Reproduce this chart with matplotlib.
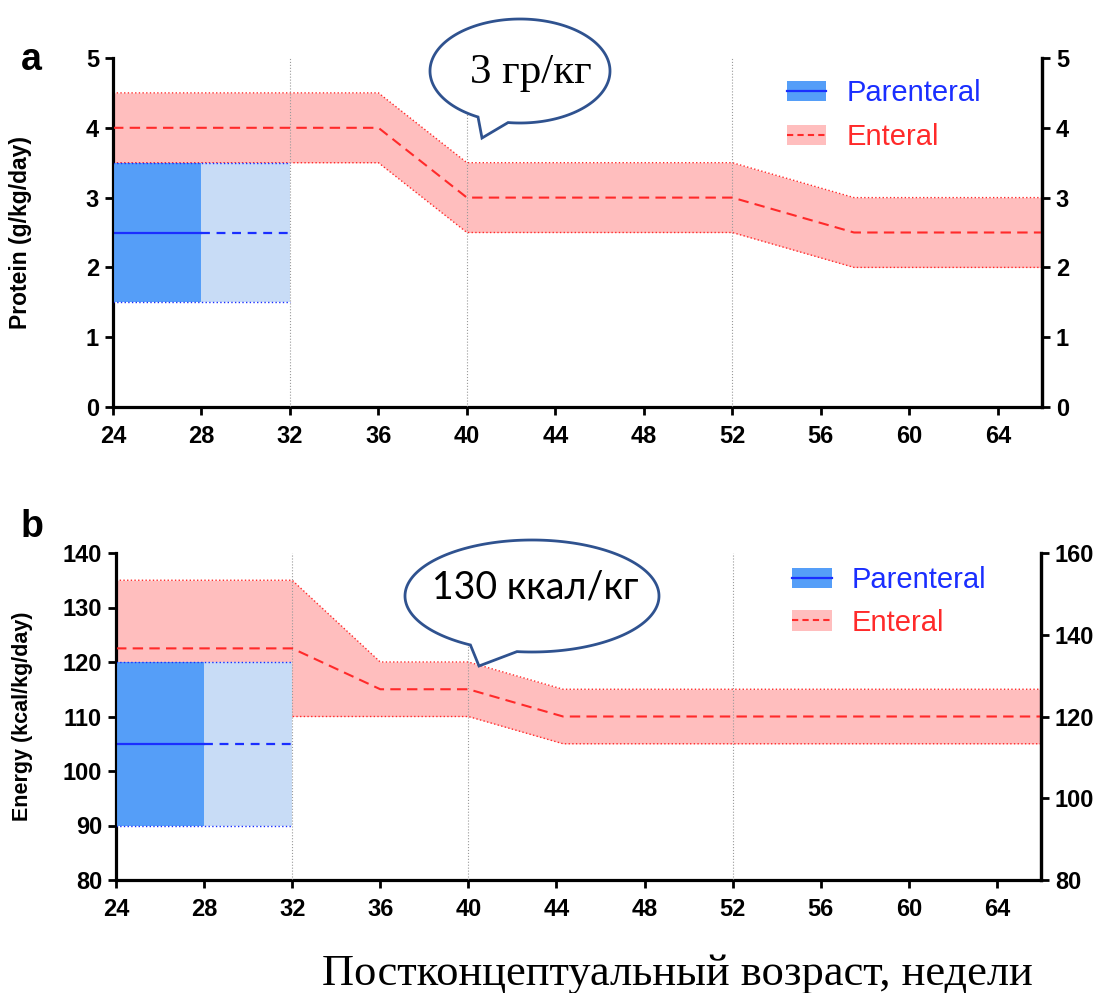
import numpy as np
import matplotlib
matplotlib.use('Agg')
import matplotlib.pyplot as plt
from matplotlib.patches import Patch, PathPatch
from matplotlib.lines import Line2D
from matplotlib.path import Path

plt.rcParams['font.family'] = ['Liberation Sans', 'DejaVu Sans']

# --- data -------------------------------------------------------------
weeks_ticks = [24, 28, 32, 36, 40, 44, 48, 52, 56, 60, 64]
grid_weeks = [32, 40, 52]

# panel a: protein (g/kg/day)
ent_x_a = [24, 36, 40, 52, 57.5, 66]
ent_mid_a = [4.0, 4.0, 3.0, 3.0, 2.5, 2.5]
ent_lo_a = [3.5, 3.5, 2.5, 2.5, 2.0, 2.0]
ent_hi_a = [4.5, 4.5, 3.5, 3.5, 3.0, 3.0]
par_x = [24, 28, 32]
par_lo_a, par_mid_a, par_hi_a = 1.5, 2.5, 3.5

# panel b: energy (kcal/kg/day)
ent_x_b = [24, 32, 36, 40, 44.3, 66]
ent_mid_b = [122.5, 122.5, 115, 115, 110, 110]
ent_lo_b = [110, 110, 110, 110, 105, 105]
ent_hi_b = [135, 135, 120, 120, 115, 115]
par_lo_b, par_mid_b, par_hi_b = 90, 105, 120

pink = '#FFBEBE'
red = '#FF2A2A'
blue_dark = '#559EF8'
blue_light = '#C8DCF6'
blue_line = '#1A2EFF'
bubble_edge = '#2F528F'

TICK_FS = 17

fig = plt.figure(figsize=(11.09, 9.93), dpi=100)
ax_a = fig.add_axes([113/1109, 1-407/993, 929/1109, 349/993])
ax_b = fig.add_axes([116/1109, 1-880/993, 925/1109, 327/993])


def style_right(ax2):
    ax2.spines['top'].set_visible(False)
    ax2.spines['right'].set_linewidth(2.3)
    ax2.tick_params(axis='y', direction='out', length=6, width=2,
                    labelsize=TICK_FS, pad=4)
    for lab in ax2.get_yticklabels():
        lab.set_fontweight('bold')


def draw_panel(ax, ent_x, lo, mid, hi, plo, pmid, phi):
    ax.fill_between(ent_x, lo, hi, color=pink, lw=0, zorder=1)
    ax.plot(ent_x, hi, ls=':', color=red, lw=1, zorder=2)
    ax.plot(ent_x, lo, ls=':', color=red, lw=1, zorder=2)
    ax.plot(ent_x, mid, ls='--', dashes=(5, 3), color=red, lw=1.5, zorder=6)
    ax.fill_between(par_x[:2], plo, phi, color=blue_dark, lw=0, zorder=3)
    ax.fill_between(par_x[1:], plo, phi, color=blue_light, lw=0, zorder=3)
    ax.plot([par_x[0], par_x[2]], [phi, phi], ls=':', color=blue_line, lw=1, zorder=4)
    ax.plot([par_x[0], par_x[2]], [plo, plo], ls=':', color=blue_line, lw=1, zorder=4)
    ax.plot(par_x[:2], [pmid, pmid], color=blue_line, lw=1.6, zorder=4)
    ax.plot(par_x[1:], [pmid, pmid], ls='--', dashes=(4, 3), color=blue_line, lw=1.6, zorder=4)
    for g in grid_weeks:
        ax.axvline(g, color='#9a9a9a', lw=0.8, ls=':', zorder=5)
    ax.set_xlim(24, 66)
    ax.set_xticks(weeks_ticks)
    ax.spines['top'].set_visible(False)
    for s in ['left', 'bottom', 'right']:
        ax.spines[s].set_linewidth(2.3)
    ax.tick_params(axis='both', direction='out', length=6, width=2,
                   labelsize=TICK_FS, pad=4)
    ax.tick_params(axis='x', pad=7)

    handles = [(Patch(facecolor=blue_dark, edgecolor='none'),
                Line2D([], [], color=blue_line, lw=1.6)),
               (Patch(facecolor=pink, edgecolor='none'),
                Line2D([], [], color=red, lw=1.5, ls='--', dashes=(3, 2)))]
    return handles


# ---- panel a
h = draw_panel(ax_a, ent_x_a, ent_lo_a, ent_mid_a, ent_hi_a,
               par_lo_a, par_mid_a, par_hi_a)
ax_a.set_ylim(0, 5)
ax_a.set_yticks([0, 1, 2, 3, 4, 5])
ax_a.set_ylabel('Protein (g/kg/day)', fontsize=16.5, fontweight='bold')
ax_a.yaxis.set_label_coords(-0.087, 0.5)
for lab in ax_a.get_xticklabels() + ax_a.get_yticklabels():
    lab.set_fontweight('bold')
ax2a = ax_a.twinx()
ax2a.set_ylim(0, 5)
ax2a.set_yticks([0, 1, 2, 3, 4, 5])
style_right(ax2a)
ax_a.legend(h, ['Parenteral', 'Enteral'], loc='upper left',
            bbox_to_anchor=(0.7255, 0.94), frameon=False, fontsize=21,
            borderpad=0, borderaxespad=0, handlelength=1.35, handleheight=0.7,
            handletextpad=0.7, labelspacing=0.55, labelcolor=[blue_line, red])

# ---- panel b
h = draw_panel(ax_b, ent_x_b, ent_lo_b, ent_mid_b, ent_hi_b,
               par_lo_b, par_mid_b, par_hi_b)
ax_b.set_ylim(80, 140)
ax_b.set_yticks([80, 90, 100, 110, 120, 130, 140])
ax_b.set_ylabel('Energy (kcal/kg/day)', fontsize=15.5, fontweight='bold')
ax_b.yaxis.set_label_coords(-0.09, 0.5)
for lab in ax_b.get_xticklabels() + ax_b.get_yticklabels():
    lab.set_fontweight('bold')
ax2b = ax_b.twinx()
ax2b.set_ylim(80, 160)
ax2b.set_yticks([80, 100, 120, 140, 160])
style_right(ax2b)
ax_b.legend(h, ['Parenteral', 'Enteral'], loc='upper left',
            bbox_to_anchor=(0.731, 0.96), frameon=False, fontsize=21,
            borderpad=0, borderaxespad=0, handlelength=1.35, handleheight=0.7,
            handletextpad=0.7, labelspacing=0.5, labelcolor=[blue_line, red])

# panel letters
fig.text(21/1109, 1-70/993, 'a', fontsize=27, fontweight='bold')
fig.text(21/1109, 1-537/993, 'b', fontsize=27, fontweight='bold')

# speech bubbles on an overlay in pixel coordinates
ov = fig.add_axes([0, 0, 1, 1], zorder=10)
ov.set_xlim(0, 1109)
ov.set_ylim(993, 0)
ov.axis('off')


def bubble(cx, cy, a, b, t1, t2, tip):
    t = np.radians(np.linspace(t1, t2 + 360, 200))
    pts = list(zip(cx + a*np.cos(t), cy + b*np.sin(t)))
    pts.append(tip)
    pts.append(pts[0])
    p = Path(pts, closed=True)
    ov.add_patch(PathPatch(p, facecolor='white', edgecolor=bubble_edge, lw=2))


bubble(520, 71, 90, 52, 117.8, 97.6, (482, 138))
ov.text(531, 83, '3 гр/кг', fontsize=31, family='Liberation Serif',
        ha='center', va='baseline')
bubble(532, 596, 127, 56, 119, 96.8, (479, 666))
ov.text(535, 598, '130 ккал/кг', fontsize=27, family='Lato',
        ha='center', va='baseline')

fig.text(677/1109, 1-985/993, 'Постконцептуальный возраст, недели',
         fontsize=32, family='Liberation Serif', ha='center', va='baseline')

fig.savefig('out.png', dpi=100)
